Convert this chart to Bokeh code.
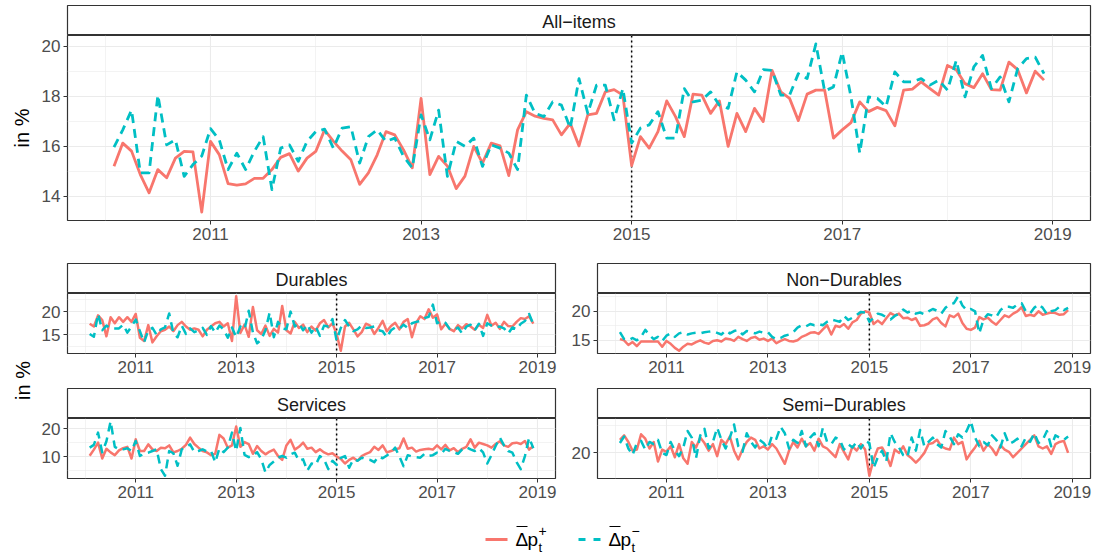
import math
from bokeh.plotting import figure
from bokeh.layouts import column, row
from bokeh.models import FixedTicker, Range1d, Span
from bokeh.embed import file_html
from bokeh.resources import INLINE
from bokeh.core.properties import value

FONT = "Liberation Sans"
RED = "#F8766D"
CYAN = "#00BFC4"
BORDER = "#333333"
GRID = "#EBEBEB"
TICK_TXT = "#4D4D4D"
DASH = "9 6"

# monthly observations, Feb 2010 .. Dec 2018
years = [2010] * 11 + [y for y in range(2011, 2019) for _ in range(12)]
months = list(range(2, 13)) + list(range(1, 13)) * 8
t = [y + (m - 1) / 12 for y, m in zip(years, months)]

x_major = [2011, 2013, 2015, 2017, 2019]
x_minor = [2010, 2012, 2014, 2016, 2018]
break_year = 2015

# ---- All-items ----
all_pos = [15.19, 16.12, 15.8, 14.86, 14.13, 15.06, 14.73, 15.52, 15.79, 15.77, 13.36,
           16.19, 15.66, 14.5, 14.44, 14.49, 14.71, 14.71, 15.06, 15.55, 15.7, 15.0, 15.52,
           15.79, 16.65, 16.2, 15.8, 15.45, 14.47, 14.93, 15.65, 16.58, 16.45, 15.85, 15.13,
           17.91, 14.86, 15.59, 15.2, 14.3, 14.8, 15.99, 15.32, 16.12, 16.01, 14.82, 16.65,
           17.38, 17.2, 17.11, 17.05, 16.45, 16.91, 16.01, 17.25, 17.31, 18.17, 18.26, 18.04,
           15.22, 16.38, 15.92, 16.58, 17.81, 17.18, 16.38, 18.08, 18.04, 17.31, 17.81, 15.99,
           17.31, 16.58, 17.51, 16.98, 19.03, 18.17, 17.91, 17.02, 18.08, 18.24, 18.24, 16.32,
           16.65, 16.94, 17.77, 17.38, 17.55, 17.42, 16.81, 18.24, 18.28, 18.57, 18.3, 18.04,
           19.23, 19.06, 18.5, 18.34, 18.9, 18.26, 18.24, 19.36, 19.06, 18.13, 19.0, 18.64]
all_neg = [15.96, 16.65, 17.44, 14.93, 14.93, 18.04, 16.05, 16.25, 14.79, 15.26, 15.6,
           16.7, 16.25, 15.06, 15.72, 15.06, 15.79, 16.38, 14.26, 15.92, 16.05, 15.39, 16.19,
           16.58, 16.68, 15.92, 16.72, 16.78, 15.32, 16.38, 16.65, 16.19, 16.32, 15.59, 15.13,
           17.25, 16.25, 17.44, 14.79, 16.19, 15.99, 16.32, 15.19, 16.05, 15.92, 15.72, 15.06,
           18.04, 17.31, 17.18, 17.77, 17.64, 16.72, 18.7, 17.31, 18.44, 18.44, 17.05, 18.3,
           16.12, 16.72, 16.85, 17.38, 16.32, 16.32, 18.3, 17.77, 17.84, 18.17, 17.64, 17.51,
           18.97, 18.64, 18.17, 19.06, 19.03, 18.04, 18.04, 18.9, 18.7, 20.09, 18.2, 18.37,
           19.76, 17.97, 15.72, 17.97, 17.91, 17.58, 18.97, 18.57, 18.57, 18.7, 18.44, 18.64,
           18.24, 19.43, 17.97, 19.17, 19.63, 18.3, 18.77, 17.77, 19.1, 19.5, 19.56, 18.9]

# ---- Durables ----
dur_pos = [17.4, 16.8, 19.2, 18.2, 14.7, 18.8, 17.5, 18.8, 17.8, 18.8, 17.8,
           19.5, 14.4, 13.7, 17.1, 13.4, 14.7, 15.8, 16.1, 16.8, 15.8, 17.1, 17.8,
           16.8, 16.1, 16.4, 16.1, 14.7, 16.1, 16.8, 17.5, 17.8, 16.8, 17.5, 13.7,
           23.3, 15.4, 17.2, 14.6, 21.0, 16.0, 15.2, 17.0, 14.8, 16.3, 15.5, 21.2,
           16.0, 15.3, 17.8, 16.5, 17.2, 15.6, 16.8, 15.9, 17.5, 18.2, 16.6, 17.5,
           15.2, 11.6, 16.8, 17.6, 16.2, 14.7, 15.6, 17.4, 17.0, 15.2, 16.5, 18.0,
           15.8, 16.9, 17.6, 16.2, 17.8, 18.4, 14.5, 17.6, 19.0, 18.4, 20.5, 18.7,
           19.4, 16.2, 17.4, 16.3, 15.8, 17.1, 16.4, 17.3, 16.8, 16.1, 17.2, 16.5,
           19.3, 17.0, 17.6, 16.3, 17.8, 16.9, 16.8, 17.8, 18.6, 18.4, 19.0, 17.4]
dur_neg = [15.2, 14.6, 19.5, 16.0, 17.0, 16.4, 16.4, 16.4, 17.2, 15.5, 16.8,
           18.3, 15.8, 13.4, 16.0, 16.5, 15.0, 16.2, 16.6, 19.6, 15.4, 14.5, 17.0,
           15.2, 16.4, 15.6, 16.0, 16.5, 15.0, 16.9, 15.5, 17.0, 16.2, 14.4, 16.6,
           14.5, 16.8, 16.2, 20.2, 15.5, 13.2, 14.0, 16.0, 19.8, 14.5, 17.8, 16.4,
           16.2, 20.0, 16.8, 17.5, 16.0, 17.2, 15.5, 16.8, 14.8, 17.0, 16.8, 18.4,
           13.8, 16.5, 18.2, 16.8, 15.8, 16.2, 17.0, 16.5, 16.6, 16.8, 16.0, 15.8,
           14.5, 16.0, 16.6, 16.3, 17.2, 16.5, 17.5, 17.8, 18.0, 18.6, 18.9, 21.5,
           17.5, 18.0, 17.6, 16.3, 16.0, 16.6, 15.3, 16.8, 17.2, 16.0, 17.4, 14.8,
           17.5, 17.0, 16.6, 16.8, 16.4, 15.3, 16.6, 16.2, 17.4, 18.0, 19.5, 17.3]

# ---- Non-Durables ----
nondur_pos = [15.2, 15.0, 14.2, 14.7, 14.0, 14.8, 14.8, 14.8, 14.8, 14.8, 13.9,
              14.9, 14.4, 13.7, 13.2, 13.9, 14.4, 14.3, 14.7, 15.0, 14.6, 14.4, 14.9,
              15.0, 14.8, 15.3, 15.2, 14.9, 15.6, 15.2, 14.9, 15.4, 15.6, 15.1, 15.3,
              14.9, 15.3, 14.5, 14.9, 15.2, 14.9, 14.8, 15.0, 15.6, 15.9, 16.3, 16.4,
              16.1, 16.9, 17.6, 16.0, 17.5, 17.3, 17.8, 17.0, 18.1, 18.5, 19.6, 20.0,
              19.8, 17.8, 18.4, 17.8, 18.8, 19.7, 19.3, 19.6, 18.8, 18.9, 18.5, 18.8,
              17.5, 17.6, 17.9, 18.6, 18.9, 18.0, 17.4, 19.3, 19.0, 19.6, 18.0, 17.0,
              16.8, 17.2, 19.0, 18.6, 18.9, 18.2, 17.7, 18.5, 19.3, 19.0, 19.6, 20.0,
              20.7, 19.2, 19.4, 19.2, 20.0, 19.4, 19.6, 19.8, 19.7, 19.4, 19.5, 20.2]
nondur_neg = [16.4, 15.2, 15.0, 15.4, 15.0, 15.6, 16.8, 15.9, 15.2, 15.6, 14.9,
              15.8, 16.2, 15.6, 16.2, 16.4, 16.0, 16.2, 16.3, 16.2, 16.4, 16.5, 16.6,
              16.3, 16.0, 16.7, 16.2, 16.6, 16.8, 16.0, 16.6, 16.4, 16.2, 16.5, 16.3,
              16.4, 15.6, 15.2, 15.4, 15.8, 16.0, 16.4, 17.2, 17.6, 17.4, 17.8, 17.6,
              17.8, 17.6, 18.2, 18.6, 18.4, 18.2, 19.2, 18.5, 18.9, 19.4, 19.9, 19.8,
              18.2, 18.9, 19.6, 19.4, 19.0, 18.6, 19.2, 19.6, 20.3, 19.8, 20.1, 19.6,
              19.8, 19.5, 20.0, 20.4, 20.1, 19.6, 20.6, 21.2, 21.4, 22.6, 21.0, 20.2,
              20.4, 20.0, 16.2, 18.6, 19.5, 19.3, 19.0, 20.2, 20.8, 20.8, 20.6, 21.2,
              21.4, 20.0, 19.6, 20.6, 21.2, 20.6, 19.5, 20.0, 20.2, 20.8, 20.2, 20.6]

# ---- Services ----
serv_pos = [10.3, 12.5, 15.0, 9.3, 12.8, 11.5, 10.5, 12.2, 13.0, 13.5, 9.3,
            16.2, 12.0, 12.0, 14.4, 12.6, 12.0, 13.2, 13.0, 14.0, 11.5, 12.0, 12.8,
            14.2, 16.8, 14.5, 13.2, 12.0, 11.5, 10.5, 11.0, 17.8, 16.5, 13.2, 14.0,
            20.8, 13.5, 15.2, 14.5, 11.0, 13.8, 12.0, 10.8, 11.8, 12.5, 10.2, 8.8,
            14.0, 16.0, 12.5, 13.5, 15.0, 12.8, 13.2, 11.6, 12.6, 11.5, 10.8, 11.2,
            10.0, 9.2, 7.5, 8.8, 9.6, 8.5, 10.2, 11.0, 11.6, 13.5, 12.4, 14.0,
            11.5, 12.0, 12.6, 13.0, 16.5, 12.8, 13.2, 11.8, 12.4, 12.6, 12.8, 12.5,
            14.0, 12.6, 14.2, 12.2, 13.0, 11.6, 12.8, 13.5, 16.2, 13.2, 15.0, 14.5,
            14.0, 13.2, 14.5, 15.5, 14.0, 13.5, 14.8, 15.0, 14.5, 15.6, 12.5, 13.8]
serv_neg = [13.2, 14.2, 18.6, 11.5, 15.5, 22.7, 13.5, 12.6, 12.6, 13.0, 12.0,
            15.6, 10.2, 11.0, 11.4, 12.0, 12.6, 5.5, 3.1, 12.0, 11.2, 6.7, 12.6,
            13.2, 14.4, 11.6, 12.0, 12.6, 11.8, 12.0, 7.9, 13.0, 11.6, 13.2, 18.6,
            12.0, 20.3, 10.6, 9.8, 10.2, 11.6, 9.0, 4.3, 7.0, 8.2, 9.6, 10.2,
            9.6, 10.8, 11.4, 8.5, 9.0, 4.9, 7.5, 7.0, 10.2, 9.0, 5.5, 8.5,
            7.0, 9.5, 10.2, 6.0, 9.0, 8.5, 9.6, 9.0, 8.8, 8.0, 10.0, 9.4,
            10.4, 11.5, 13.2, 10.0, 6.5, 10.5, 10.0, 9.8, 9.6, 11.0, 10.2, 10.5,
            11.4, 11.0, 12.8, 12.0, 11.6, 11.0, 12.6, 13.4, 12.6, 12.0, 13.0, 11.5,
            7.5, 10.5, 13.8, 16.8, 14.0, 12.0, 11.4, 8.0, 5.5, 10.2, 16.8, 13.0]

# ---- Semi-Durables ----
semi_pos = [21.2, 21.6, 21.0, 20.2, 20.3, 21.7, 21.3, 20.4, 21.0, 19.2, 20.3,
            20.1, 20.6, 19.6, 20.8, 19.5, 19.0, 21.0, 20.5, 21.4, 20.9, 20.2, 20.8,
            19.7, 21.2, 20.8, 21.5, 20.2, 19.4, 20.3, 21.0, 21.4, 21.2, 20.4, 20.6,
            20.3, 20.8, 20.4, 19.7, 19.0, 20.2, 21.0, 20.5, 21.3, 20.6, 20.9, 20.2,
            21.3, 20.6, 20.4, 20.0, 19.6, 20.8, 20.1, 19.4, 20.6, 20.2, 20.8, 20.3,
            17.9, 19.4, 20.4, 20.5, 19.8, 18.8, 20.3, 20.0, 20.6, 19.8, 19.5, 19.1,
            19.5, 20.0, 20.8, 20.9, 21.2, 20.6, 20.4, 20.3, 21.4, 20.8, 21.0, 19.4,
            20.0, 20.5, 21.1, 20.2, 20.8, 20.4, 19.8, 20.7, 20.3, 20.1, 19.6, 20.0,
            20.4, 20.8, 21.2, 21.6, 20.6, 20.4, 20.6, 19.9, 20.8, 21.0, 21.1, 20.0]
semi_neg = [20.9, 21.5, 20.4, 19.8, 20.9, 21.1, 20.3, 21.0, 20.8, 21.2, 20.0,
            19.8, 21.0, 20.2, 19.7, 20.5, 22.0, 21.4, 19.5, 21.6, 22.2, 20.4, 21.0,
            22.3, 21.2, 20.4, 21.4, 22.6, 20.6, 20.1, 21.8, 21.0, 20.5, 21.2, 20.9,
            20.4, 21.6, 21.3, 22.4, 21.8, 20.4, 21.2, 20.9, 22.0, 20.6, 21.4, 21.8,
            20.6, 22.3, 21.0, 20.8, 21.4, 21.2, 20.3, 20.8, 20.5, 21.0, 20.4, 21.1,
            20.9, 18.6, 19.6, 20.2, 19.2, 21.8, 21.0, 20.5, 19.8, 19.6, 21.4, 20.2,
            22.1, 20.6, 21.0, 21.4, 20.8, 20.5, 22.0, 21.5, 20.8, 21.7, 21.4, 22.0,
            22.9, 21.4, 20.6, 21.0, 20.7, 21.6, 21.2, 20.5, 21.8, 20.8, 21.0, 21.3,
            20.6, 21.4, 21.0, 21.8, 20.9, 21.2, 22.0, 20.6, 21.6, 21.4, 21.2, 21.5]


def expanded(vals, frac=0.05):
    lo, hi = min(vals), max(vals)
    pad = (hi - lo) * frac
    return lo - pad, hi + pad


X_RANGE = expanded(t)


def strip(label, width, left, right, top=5):
    s = figure(width=width, height=30 + top, x_range=Range1d(0, 1), y_range=Range1d(0, 1),
               x_axis_location=None, y_axis_location=None, toolbar_location=None,
               output_backend="svg", min_border_left=left, min_border_right=right,
               min_border_top=top, min_border_bottom=0)
    s.grid.visible = False
    s.outline_line_color = BORDER
    s.outline_line_width = 1.2
    s.background_fill_color = "white"
    s.border_fill_color = "white"
    s.text(x=[0.5], y=[0.46], text=[label], text_align="center", text_baseline="middle",
           text_font=value(FONT), text_font_size="18px", text_color="#1A1A1A")
    return s


def panel(pos, neg, width, height, left, right, bottom, yticks, yminor,
          ylabel=None, lw=2.5):
    ylo, yhi = expanded(pos + neg)
    p = figure(width=width, height=height, x_range=Range1d(*X_RANGE), y_range=Range1d(ylo, yhi),
               toolbar_location=None, output_backend="svg", min_border_left=left,
               min_border_right=right, min_border_top=0, min_border_bottom=bottom)
    p.background_fill_color = "white"
    p.border_fill_color = "white"
    p.outline_line_color = BORDER
    p.outline_line_width = 1.2

    p.xaxis.ticker = FixedTicker(ticks=x_major, minor_ticks=x_minor)
    p.yaxis.ticker = FixedTicker(ticks=yticks, minor_ticks=yminor)
    for ax in (p.xaxis, p.yaxis):
        ax.axis_line_color = None
        ax.major_tick_line_color = BORDER
        ax.major_tick_line_width = 1
        ax.major_tick_out = 4
        ax.major_tick_in = 0
        ax.minor_tick_line_color = None
        ax.major_label_text_font = FONT
        ax.major_label_text_font_size = "17px"
        ax.major_label_text_color = TICK_TXT
        ax.major_label_standoff = 3
    if ylabel:
        p.yaxis.axis_label = ylabel
        p.yaxis.axis_label_text_font = FONT
        p.yaxis.axis_label_text_font_size = "20px"
        p.yaxis.axis_label_text_font_style = "normal"
        p.yaxis.axis_label_text_color = "black"
        p.yaxis.axis_label_standoff = 6

    p.grid.grid_line_color = GRID
    p.grid.grid_line_width = 1.1
    p.grid.minor_grid_line_color = GRID
    p.grid.minor_grid_line_width = 0.6

    p.add_layout(Span(location=break_year, dimension="height", line_color="black",
                      line_dash="2 3", line_width=1.5, level="underlay"))
    p.line(t, pos, line_color=RED, line_width=lw, line_join="round")
    p.line(t, neg, line_color=CYAN, line_width=lw, line_dash=DASH, line_join="round")
    return p


# ---- top: all items ----
top_strip = strip("All\u2212items", 1098, 67, 8)
top_plot = panel(all_pos, all_neg, 1098, 223, 67, 8, 38, [14, 16, 18, 20], [13, 15, 17, 19],
                 ylabel="in %", lw=2.8)

# ---- small multiples ----
LW, LL, LR = 524, 31, 5      # left column width and borders
RW, RL, RR = 538, 37, 8      # right column width and borders

d_strip = strip("Durables", LW, LL, LR)
d_plot = panel(dur_pos, dur_neg, LW, 90, LL, LR, 30, [10, 15, 20], [12.5, 17.5, 22.5])
s_strip = strip("Services", LW, LL, LR)
s_plot = panel(serv_pos, serv_neg, LW, 90, LL, LR, 30, [0, 10, 20], [5, 15, 25])

n_strip = strip("Non\u2212Durables", RW, RL, RR)
n_plot = panel(nondur_pos, nondur_neg, RW, 90, RL, RR, 30, [10, 15, 20, 25], [12.5, 17.5, 22.5])
m_strip = strip("Semi\u2212Durables", RW, RL, RR)
m_plot = panel(semi_pos, semi_neg, RW, 90, RL, RR, 30, [15, 20, 25], [17.5, 22.5])

# shared y-axis title for the small multiples
ylab = figure(width=36, height=250, x_range=Range1d(0, 36), y_range=Range1d(0, 250),
              x_axis_location=None, y_axis_location=None, toolbar_location=None,
              output_backend="svg", min_border=0)
ylab.grid.visible = False
ylab.outline_line_color = None
ylab.text(x=[22], y=[128], text=["in %"], angle=math.pi / 2, text_align="center",
          text_baseline="middle", text_font=value(FONT), text_font_size="20px",
          text_color="black")

# ---- legend (frame spans page x 67..1090, local y measured up from page bottom) ----
leg = figure(width=1098, height=51, x_range=Range1d(67, 1090), y_range=Range1d(0, 51),
             x_axis_location=None, y_axis_location=None, toolbar_location=None,
             output_backend="svg", min_border_left=67, min_border_right=8,
             min_border_top=0, min_border_bottom=0)
leg.grid.visible = False
leg.outline_line_color = None


def legend_item(x0, color, dash, sign):
    leg.line([x0, x0 + 22], [20, 20], line_color=color, line_width=2.8, line_dash=dash)
    xd = x0 + 30
    txt = dict(text_font=value(FONT), text_color="black", text_baseline="middle")
    leg.text(x=[xd], y=[20], text=["\u0394"], text_font_size="19px", **txt)
    leg.line([xd + 1, xd + 12], [33, 33], line_color="black", line_width=1.2)
    leg.text(x=[xd + 12], y=[20], text=["p"], text_font_size="19px", **txt)
    leg.text(x=[xd + 23], y=[12], text=["t"], text_font_size="13px", **txt)
    leg.text(x=[xd + 23], y=[29], text=[sign], text_font_size="14px", **txt)


legend_item(485, RED, "solid", "+")
legend_item(578, CYAN, "7 8", "\u2212")

layout = column(
    top_strip,
    top_plot,
    row(ylab,
        column(d_strip, d_plot, s_strip, s_plot),
        column(n_strip, n_plot, m_strip, m_plot)),
    leg,
)

open("out.html", "w").write(file_html(layout, INLINE))
